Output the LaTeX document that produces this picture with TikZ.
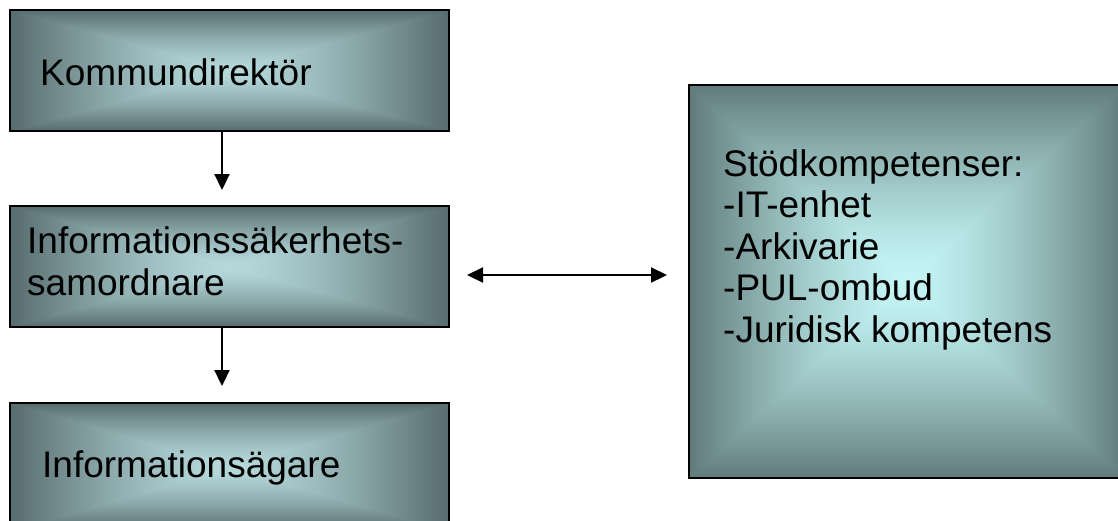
\documentclass[tikz,border=0pt]{standalone}
\usepackage{fontspec}
\setmainfont{Liberation Sans}
\usetikzlibrary{arrows.meta}
% rectangular "from centre" gradient, t = min(1, max(|x|,|y|)/25)^1.4
\pgfdeclarefunctionalshading{boxshadeL}{\pgfpoint{-50bp}{-50bp}}{\pgfpoint{50bp}{50bp}}{}{
  abs exch abs 2 copy lt {exch} if pop 25 div dup 1 gt {pop 1} if 1.4 exp
  dup -0.37 mul 0.71 add exch
  dup -0.43 mul 0.85 add exch
  -0.43 mul 0.86 add
}
\pgfdeclarefunctionalshading{boxshadeR}{\pgfpoint{-50bp}{-50bp}}{\pgfpoint{50bp}{50bp}}{}{
  abs exch abs 2 copy lt {exch} if pop 25 div dup 1 gt {pop 1} if 1.4 exp
  dup -0.39 mul 0.77 add exch
  dup -0.48 mul 0.96 add exch
  -0.48 mul 0.96 add
}
\tikzset{
  boxL/.style={draw=black, line width=2pt, shading=boxshadeL, rectangle, inner sep=0pt},
  boxR/.style={draw=black, line width=2pt, shading=boxshadeR, rectangle, inner sep=0pt},
  lbl/.style={anchor=base west, inner sep=0pt, align=left, font=\fontsize{37}{41.5}\selectfont},
  conn/.style={line width=2.2pt, -{Triangle[length=16pt,width=15pt]}},
  conn2/.style={line width=2.2pt, {Triangle[length=16pt,width=15pt]}-{Triangle[length=16pt,width=15pt]}}
}
\begin{document}
\begin{tikzpicture}[x=1pt,y=-1pt]
\useasboundingbox (0,0) rectangle (1118,520);
\clip (0,0) rectangle (1118,520);
\node[boxL, minimum width=439pt, minimum height=121pt] (top) at (229.5,70.5) {};
\node[boxL, minimum width=439pt, minimum height=121pt] (mid) at (229.5,266.5) {};
\node[boxL, minimum width=439pt, minimum height=128pt] (bot) at (229.5,467) {};
\node[boxR, minimum width=436pt, minimum height=393pt] (right) at (907,281.5) {};

\node[lbl] (ttop) at (40,85) {Kommundirektör};
\node[lbl] (tmid) at (27,295) {Informationssäkerhets-\\samordnare};
\node[lbl] (tbot) at (42,477) {Informationsägare};
\node[lbl] (tright) at (723,342) {Stödkompetenser:\\-IT-enhet\\-Arkivarie\\-PUL-ombud\\-Juridisk kompetens};

\draw[conn, shorten >=15pt] ([xshift=-7.5pt]top.south) -- ([xshift=-7.5pt]mid.north);
\draw[conn, shorten >=16pt] ([xshift=-7.5pt]mid.south) -- ([xshift=-7.5pt]bot.north);
\draw[conn2, shorten <=17pt, shorten >=21pt] ([yshift=-8.5pt]mid.east) -- ([yshift=6.5pt]right.west);
\end{tikzpicture}
\end{document}
